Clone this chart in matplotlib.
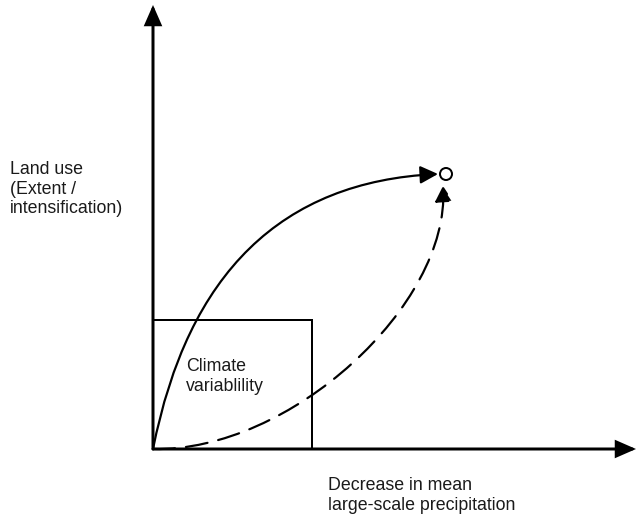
import matplotlib.pyplot as plt
from matplotlib.patches import FancyArrowPatch, Rectangle, Circle
from matplotlib.path import Path

plt.rcParams['font.family'] = ['Liberation Sans', 'DejaVu Sans']

# diagram geometry in pixel space (origin top-left)
origin = (153, 449)
y_axis_end = (153, 5)
x_axis_end = (636, 449)
box_corner = (153, 320)
box_size = (159, 129)
target = (446, 174)

# solid: quadratic bezier (start, control, end)
solid_curve = [(153, 449), (205, 185), (438, 174)]
# dashed: cubic bezier (start, c1, c2, end)
dashed_curve = [(153, 449), (290, 452), (450, 305), (443, 186)]

labels = {
    "y": "Land use\n(Extent /\nintensification)",
    "box": "Climate\nvariablility",
    "x": "Decrease in mean\nlarge-scale precipitation",
}
label_pos = {"y": (10, 161), "box": (186, 358), "x": (328, 477)}

PX = 72 / 100  # pixels -> points at dpi 100

fig = plt.figure(figsize=(6.36, 5.18), dpi=100)
ax = fig.add_axes([0, 0, 1, 1])
ax.set_xlim(0, 636)
ax.set_ylim(518, 0)
ax.axis("off")

# axes arrows
for end in (y_axis_end, x_axis_end):
    style = f"-|>,head_length={16 * PX},head_width={7 * PX}"
    ax.add_patch(FancyArrowPatch(origin, end, arrowstyle=style, color="black",
                                 lw=3 * PX, shrinkA=0, shrinkB=0, mutation_scale=1,
                                 joinstyle="miter"))

ax.add_patch(Rectangle(box_corner, box_size[0], box_size[1], fill=False,
                       ec="black", lw=2 * PX))

# solid curve
path = Path(solid_curve, [Path.MOVETO, Path.CURVE3, Path.CURVE3])
ax.add_patch(FancyArrowPatch(path=path, arrowstyle=f"-|>,head_length={15 * PX},head_width={7.5 * PX}",
                             color="black", lw=2.2 * PX, shrinkA=0, shrinkB=0,
                             mutation_scale=1))

# dashed curve
path = Path(dashed_curve, [Path.MOVETO, Path.CURVE4, Path.CURVE4, Path.CURVE4])
ax.add_patch(FancyArrowPatch(path=path, arrowstyle=f"-|>,head_length={13 * PX},head_width={7.5 * PX}",
                             color="black", lw=2.2 * PX, linestyle=(0, (10, 5)),
                             shrinkA=0, shrinkB=0, mutation_scale=1))

ax.add_patch(Circle(target, 6, fill=True, fc="white", ec="black", lw=2 * PX, zorder=3))

for key, text in labels.items():
    x, y = label_pos[key]
    ax.text(x, y, text, fontsize=12.8, va="top", ha="left", linespacing=1.2,
            color="#1a1a1a")

fig.savefig("out.png", dpi=100)
